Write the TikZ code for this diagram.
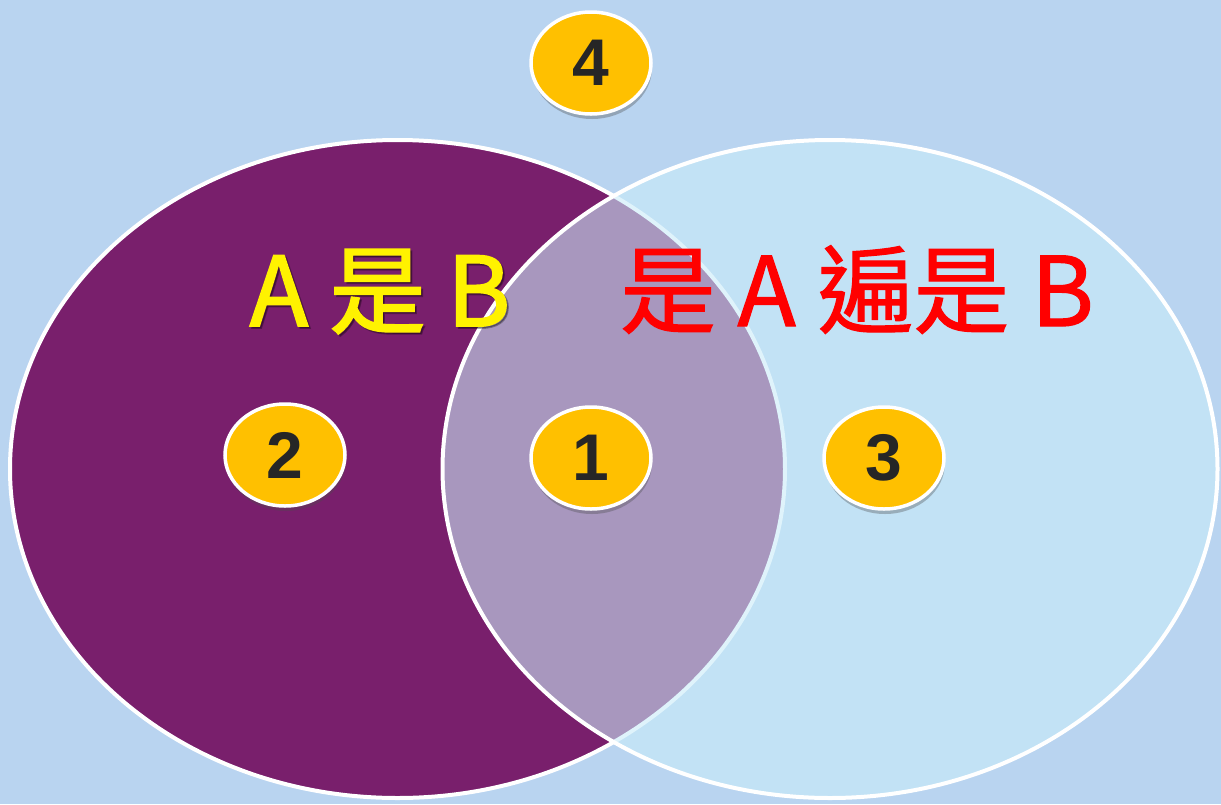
\documentclass[tikz,border=0pt]{standalone}
\usepackage{fontspec}
\newfontfamily\cjk{Noto Sans CJK TC}[FakeBold=1.2]
\newfontfamily\cjkheavy{Noto Sans CJK TC}[FakeBold=2]
\newfontfamily\numfont{Liberation Sans}
\usepackage{tikz}
\usetikzlibrary{shapes.geometric,shadows}
\definecolor{bgc}{HTML}{B9D4F0}
\definecolor{purc}{HTML}{791F6C}
\definecolor{skyc}{HTML}{C9ECF9}
\definecolor{goldc}{HTML}{FFC000}
\definecolor{numc}{HTML}{262626}
\tikzset{
  setell/.style={ellipse,draw=white,line width=4pt,minimum width=775pt,minimum height=658pt,inner sep=0pt},
  badge/.style={ellipse,draw=white,line width=3.5pt,fill=goldc,minimum width=120pt,minimum height=102pt,inner sep=0pt,
    text=numc,font=\numfont\bfseries\fontsize{66}{70}\selectfont,
    drop shadow={shadow xshift=1pt,shadow yshift=-5pt,fill=black!70,opacity=0.35}},
  lab/.style={anchor=base,inner sep=0pt,font=\cjk\fontsize{96}{100}\selectfont},
  labh/.style={lab,font=\cjkheavy\fontsize{96}{100}\selectfont},
}
\begin{document}
\begin{tikzpicture}[x=1pt,y=-1pt]
  \fill[bgc] (0,0) rectangle (1221,804);
  % two sets
  \node[setell,fill=purc] (setA) at (397.5,469) {};
  \node[setell,fill=skyc,fill opacity=0.59] (setB) at (830,469) {};
  % labels
  \node[labh,text=black,opacity=0.3] at (382,328) {A 是 B};
  \node[labh,text=yellow] (labA) at (380,326) {A 是 B};
  \node[lab,text=red] (labB) at (857,326) {是 A 遍是 B};
  % regions
  \foreach \n/\x/\y in {4/591/63,2/285/455,1/591/458,3/884/458}
    \node[badge] (b\n) at (\x,\y) {\n};
\end{tikzpicture}
\end{document}
